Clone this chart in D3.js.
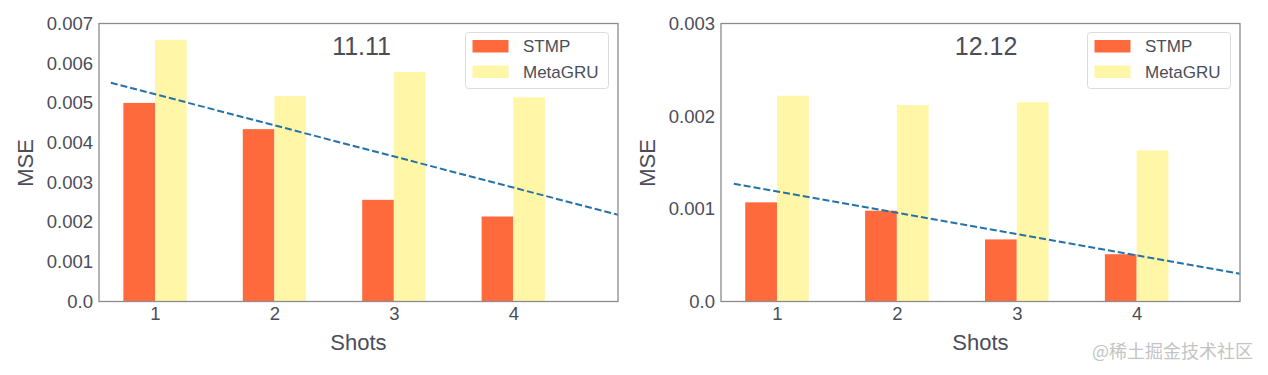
<!DOCTYPE html>
<html>
<head>
<meta charset="utf-8">
<script src="https://cdn.jsdelivr.net/npm/d3@7"></script>
<style>
  body { margin: 0; background: #fff; }
  svg { display: block; font-family: "Liberation Sans", Arial, sans-serif; }
</style>
</head>
<body>
<svg id="chart" width="1268" height="375"></svg>
<script>
// data
const shots = [1, 2, 3, 4];
const seriesNames = ["STMP", "MetaGRU"];

const stmp1111 = [0.00500, 0.00434, 0.00256, 0.00214];
const metagru1111 = [0.00659, 0.00517, 0.00578, 0.00514];
const trend1111 = [[0.63, 0.00551], [4.88, 0.00218]];
const yTicks1111 = [0, 0.001, 0.002, 0.003, 0.004, 0.005, 0.006, 0.007];

const stmp1212 = [0.00107, 0.00098, 0.00067, 0.00051];
const metagru1212 = [0.00222, 0.00212, 0.00215, 0.00163];
const trend1212 = [[0.64, 0.00127], [4.86, 0.00030]];
const yTicks1212 = [0, 0.001, 0.002, 0.003];

const colors = ["#ff6a3d", "#fff6a8"];
const textColor = "#4b4d59";
const spineColor = "#8c8c8c";

const svg = d3.select("#chart");

function tickFmt(d) { return d === 0 ? "0.0" : d3.format(".3f")(d); }

function drawPanel(opts) {
  const left = opts.left, right = opts.right, top = 23.5, bottom = 301.5;
  const width = right - left, height = bottom - top;

  const x = d3.scaleLinear().domain(opts.xDomain).range([0, width]);
  const y = d3.scaleLinear().domain([0, opts.yMax]).range([height, 0]);

  const g = svg.append("g").attr("transform", "translate(" + left + "," + top + ")");

  const clipId = "clip" + opts.id;
  g.append("clipPath").attr("id", clipId)
    .append("rect").attr("width", width).attr("height", height);

  const barW = 0.265;
  const series = [opts.stmp, opts.meta];

  // bars
  series.forEach((vals, si) => {
    g.append("g").selectAll("rect")
      .data(vals)
      .enter()
      .append("rect")
      .attr("x", (d, i) => x(shots[i] - barW + si * barW))
      .attr("y", d => y(d))
      .attr("width", x(barW) - x(0))
      .attr("height", d => height - y(d))
      .attr("fill", colors[si]);
  });

  // trend line
  g.append("path")
    .datum(opts.trend)
    .attr("clip-path", "url(#" + clipId + ")")
    .attr("d", d3.line().x(d => x(d[0])).y(d => y(d[1])))
    .attr("fill", "none")
    .attr("stroke", "#2472a8")
    .attr("stroke-width", 2)
    .attr("stroke-dasharray", "7,3");

  // frame
  g.append("rect")
    .attr("width", width).attr("height", height)
    .attr("fill", "none")
    .attr("stroke", spineColor)
    .attr("stroke-width", 1.3);

  // axes
  const yAxis = g.append("g")
    .call(d3.axisLeft(y).tickValues(opts.yTicks).tickFormat(tickFmt).tickSize(0).tickPadding(6));
  yAxis.select(".domain").remove();
  yAxis.selectAll("text").attr("fill", textColor).style("font-size", "18.5px")
    .style("font-family", "'Liberation Sans', Arial, sans-serif");

  const xAxis = g.append("g")
    .attr("transform", "translate(0," + height + ")")
    .call(d3.axisBottom(x).tickValues(shots).tickFormat(d3.format("d")).tickSize(0).tickPadding(5));
  xAxis.select(".domain").remove();
  xAxis.selectAll("text").attr("fill", textColor).style("font-size", "18.5px")
    .style("font-family", "'Liberation Sans', Arial, sans-serif");

  // axis labels
  g.append("text")
    .attr("x", width / 2)
    .attr("y", 350 - top)
    .attr("text-anchor", "middle")
    .attr("fill", textColor)
    .style("font-size", "22px")
    .text("Shots");

  g.append("text")
    .attr("transform", "translate(" + (opts.yLabelX - left) + "," + (163 - top) + ") rotate(-90)")
    .attr("text-anchor", "middle")
    .attr("dominant-baseline", "central")
    .attr("fill", textColor)
    .style("font-size", "22px")
    .text("MSE");

  // title inside plot
  g.append("text")
    .attr("x", x(2.5) - 2)
    .attr("y", 55 - top)
    .attr("fill", textColor)
    .style("font-size", "25px")
    .text(opts.title);

  // legend
  const lw = 143, lh = 56;
  const leg = g.append("g").attr("transform", "translate(" + (width - 9.5 - lw) + ",9)");
  leg.append("rect")
    .attr("width", lw).attr("height", lh)
    .attr("rx", 3)
    .attr("fill", "#fff").attr("fill-opacity", 0.8)
    .attr("stroke", "#dcdcdc");
  seriesNames.forEach((name, i) => {
    leg.append("rect")
      .attr("x", 7).attr("y", 7.5 + i * 25.5)
      .attr("width", 36).attr("height", 12.5)
      .attr("fill", colors[i]);
    leg.append("text")
      .attr("x", 57.5).attr("y", 14 + i * 25.5)
      .attr("dominant-baseline", "central")
      .attr("fill", textColor)
      .style("font-size", "17px")
      .text(name);
  });
}

drawPanel({ id: 1, left: 99, right: 618, xDomain: [0.531, 4.877], yMax: 0.007,
  stmp: stmp1111, meta: metagru1111, trend: trend1111, yTicks: yTicks1111,
  title: "11.11", yLabelX: 25 });

drawPanel({ id: 2, left: 721, right: 1240, xDomain: [0.533, 4.862], yMax: 0.003,
  stmp: stmp1212, meta: metagru1212, trend: trend1212, yTicks: yTicks1212,
  title: "12.12", yLabelX: 647 });

// watermark
svg.append("text")
  .attr("x", 1253)
  .attr("y", 358)
  .attr("text-anchor", "end")
  .attr("fill", "#c4c4c4")
  .style("font-size", "18px")
  .style("font-family", "'Noto Sans CJK SC', sans-serif")
  .text("@稀土掘金技术社区");
</script>
</body>
</html>
